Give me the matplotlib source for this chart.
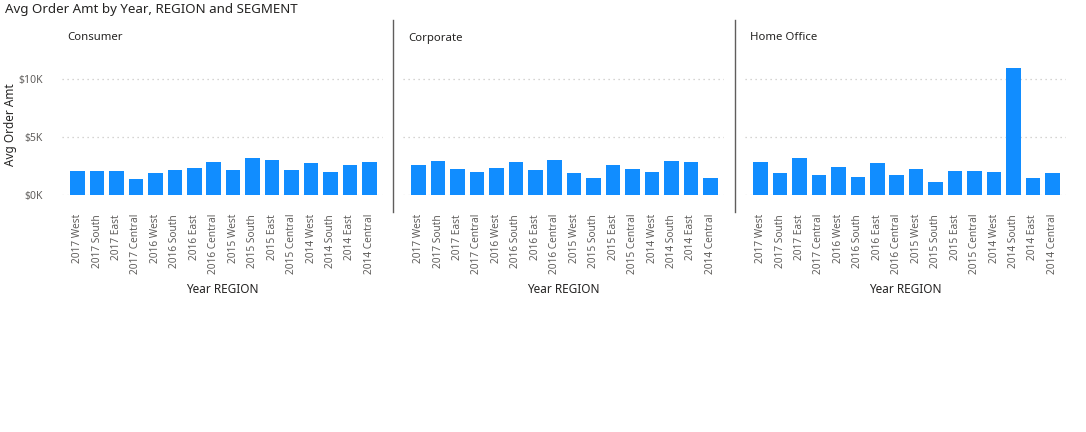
import matplotlib.pyplot as plt
import matplotlib.ticker as mticker
from matplotlib.lines import Line2D

plt.rcParams['font.family'] = ['Noto Sans', 'DejaVu Sans']

categories = ['2017 West', '2017 South', '2017 East', '2017 Central',
              '2016 West', '2016 South', '2016 East', '2016 Central',
              '2015 West', '2015 South', '2015 East', '2015 Central',
              '2014 West', '2014 South', '2014 East', '2014 Central']

segments = ['Consumer', 'Corporate', 'Home Office']

consumer = [2080, 2000, 2020, 1330, 1880, 2140, 2340, 2830,
            2110, 3210, 3000, 2110, 2770, 1970, 2570, 2800]
corporate = [2540, 2920, 2200, 1940, 2340, 2800, 2140, 2980,
             1880, 1470, 2600, 2200, 1940, 2920, 2800, 1420]
home_office = [2800, 1880, 3180, 1730, 2400, 1530, 2720, 1730,
               2230, 1070, 2020, 2020, 1910, 11000, 1470, 1880]

values = [consumer, corporate, home_office]

W, H = 1086, 432
fig = plt.figure(figsize=(W / 100, H / 100), dpi=100)

bar_color = '#118DFF'
lefts = [62, 403, 745]
width_px = 321
bottom_px = 194.5
top_px = 62

fig.text(5 / W, 1 - 9 / H, 'Avg Order Amt by Year, REGION and SEGMENT',
         fontsize=9.6, color='#252423', va='center', ha='left')
fig.text(11 / W, 1 - 125 / H, 'Avg Order Amt', rotation=90,
         fontsize=8.5, color='#252423', va='center', ha='center')

for i, (seg, vals) in enumerate(zip(segments, values)):
    ax = fig.add_axes([lefts[i] / W, (H - bottom_px) / H,
                       width_px / W, (bottom_px - top_px) / H])
    x = list(range(len(categories)))
    ax.bar(x, vals, width=0.75, color=bar_color, zorder=3)
    ax.set_xlim(-0.8, 15.7)
    ax.set_ylim(0, 11500)
    ax.set_yticks([0, 5000, 10000])
    ax.yaxis.set_major_formatter(mticker.FuncFormatter(lambda v, p: '$%dK' % (v / 1000)))
    ax.grid(axis='y', linestyle=(0, (1, 3)), color='#C8C6C4', linewidth=0.9, zorder=0)
    for s in ax.spines.values():
        s.set_visible(False)
    ax.tick_params(length=0)
    ax.set_xticks(x)
    ax.set_xticklabels(categories, rotation=90, fontsize=7.3, color='#605E5C')
    ax.tick_params(axis='x', pad=14)
    if i == 0:
        ax.tick_params(axis='y', labelsize=7.5, labelcolor='#605E5C', pad=14)
    else:
        ax.set_yticklabels([])
    ax.set_xlabel('Year REGION', fontsize=8.5, color='#252423', labelpad=6)
    ax.text(lefts[i] / W + 5 / W, 1 - 38 / H, seg, transform=fig.transFigure,
            fontsize=8.2, color='#252423', va='center', ha='left')

for xs in [393.3, 734.5]:
    fig.add_artist(Line2D([xs / W, xs / W], [1 - 20 / H, 1 - 212 / H],
                          color='#605E5C', linewidth=1.0))

fig.savefig('out.png', dpi=100, facecolor='white')
